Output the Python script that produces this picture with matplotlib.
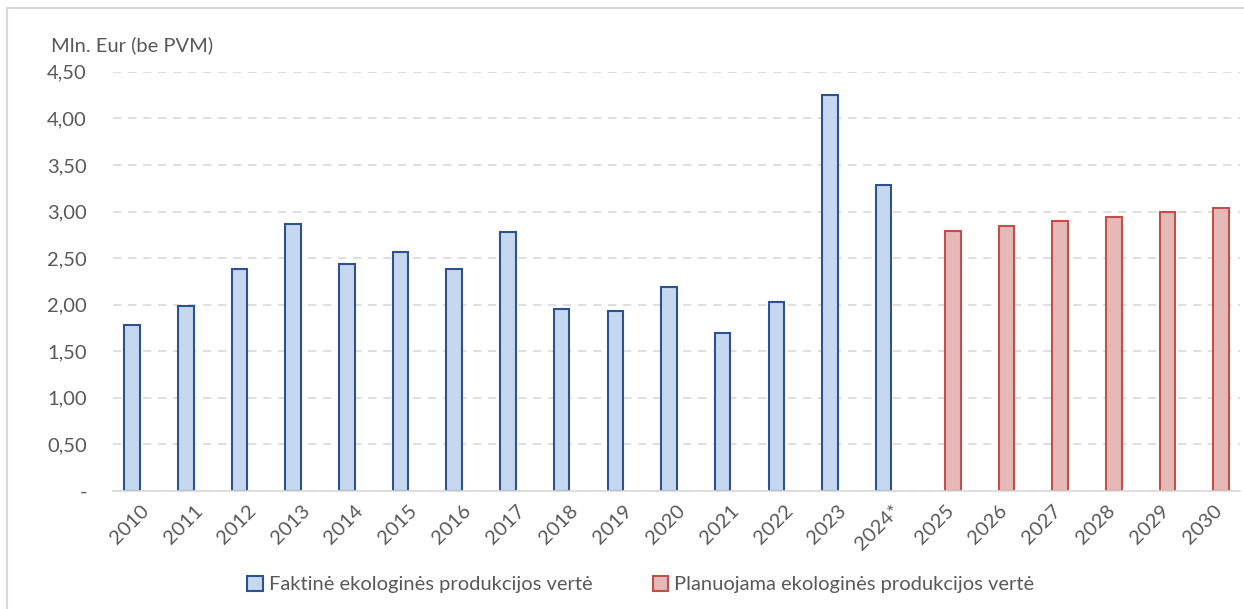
import matplotlib.pyplot as plt
from matplotlib.patches import Rectangle

plt.rcParams['font.family'] = ['Lato', 'DejaVu Sans']

metai = ["2010", "2011", "2012", "2013", "2014", "2015", "2016", "2017", "2018",
         "2019", "2020", "2021", "2022", "2023", "2024*", "2025", "2026", "2027",
         "2028", "2029", "2030"]
faktine = [1.78, 1.99, 2.38, 2.87, 2.44, 2.56, 2.38, 2.78, 1.95, 1.93, 2.19,
           1.70, 2.03, 4.25, 3.28]
planuojama = [2.79, 2.84, 2.90, 2.94, 2.99, 3.04]
y_ticks = [0, 0.5, 1.0, 1.5, 2.0, 2.5, 3.0, 3.5, 4.0, 4.5]

pilka = '#595959'
plotis = 0.29
fig = plt.figure(figsize=(12.44, 6.09), dpi=100)
ax = fig.add_axes([0.091, 0.194, 0.906, 0.688])

# Excel grupuoti stulpeliai: melyni kaireje, raudoni desineje kategorijos puses
x_f = [i - plotis / 2 for i in range(len(faktine))]
x_p = [i + plotis / 2 for i in range(len(faktine), len(metai))]
ax.bar(x_f, faktine, width=plotis, color='#C6D8F0', edgecolor='#2F528F',
       linewidth=1.5, label='Faktinė ekologinės produkcijos vertė', zorder=3)
ax.bar(x_p, planuojama, width=plotis, color='#E6B8B7', edgecolor='#C0504D',
       linewidth=1.5, label='Planuojama ekologinės produkcijos vertė', zorder=3)

ax.set_xlim(-0.5, len(metai) - 0.5)
ax.set_ylim(0, 4.5)
ax.set_yticks(y_ticks)
ax.set_yticklabels(['-'] + [('%.2f' % v).replace('.', ',') for v in y_ticks[1:]])
ax.set_xticks(range(len(metai)))
ax.set_xticklabels(metai, rotation=45, ha='right', rotation_mode='anchor')
ax.tick_params(axis='both', length=0, labelsize=14.5, colors=pilka)
ax.tick_params(axis='y', pad=19)
ax.tick_params(axis='x', pad=8)

ax.yaxis.grid(True, color='#D9D9D9', linestyle=(0, (5, 4)), linewidth=1.2, zorder=0)
ax.set_axisbelow(True)
for s in ['top', 'right', 'left']:
    ax.spines[s].set_visible(False)
ax.spines['bottom'].set_color('#D9D9D9')
ax.spines['bottom'].set_linewidth(1.2)
ax.spines['bottom'].set_zorder(4)

fig.text(0.041, 0.925, 'Mln. Eur (be PVM)', fontsize=14.5, color=pilka, va='center')

leg = fig.legend(loc='center', bbox_to_anchor=(0.515, 0.04), ncol=2, frameon=False,
                 fontsize=14.5, handlelength=0.75, handleheight=0.75,
                 handletextpad=0.3, columnspacing=3.0)
for t in leg.get_texts():
    t.set_color(pilka)

fig.patches.append(Rectangle((0.006, -0.01), 1.0, 0.997, transform=fig.transFigure,
                             fill=False, edgecolor='#D9D9D9', linewidth=1.5))

fig.savefig('out.png', dpi=100)
